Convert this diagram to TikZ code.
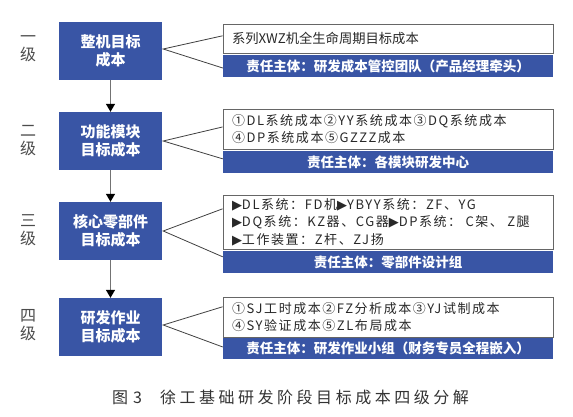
\documentclass[tikz,border=0pt]{standalone}
\usepackage{fontspec}
\usetikzlibrary{arrows.meta,calc}
\newfontfamily\cjk{Noto Sans CJK SC}
\newfontfamily\cjksp[LetterSpace=12]{Noto Sans CJK SC}
\newfontfamily\capfont[LetterSpace=22]{Noto Sans CJK SC}
\newfontfamily\symf{DejaVu Sans}
\definecolor{bluebox}{RGB}{57,85,165}
\definecolor{txtgray}{RGB}{40,40,40}
\newcommand{\tri}{{\symf\fontsize{13}{10}\selectfont ▶}}
\begin{document}
\begin{tikzpicture}[x=1pt,y=-1pt,
  lbox/.style={fill=bluebox,minimum width=103pt,minimum height=58pt,text=white,
    font=\cjk\bfseries\fontsize{15}{18}\selectfont,align=center,inner sep=0pt},
  wbox/.style={draw=black!60,line width=0.9pt,fill=white,minimum width=330pt,
    text width=312pt,inner xsep=9pt,inner ysep=0pt,align=left,text=txtgray,
    font=\cjksp\fontsize{13}{17.5}\selectfont},
  bbar/.style={fill=bluebox,minimum width=330pt,text=white,inner sep=0pt,
    font=\cjk\bfseries\fontsize{13.5}{16}\selectfont},
  lvl/.style={text=black!70,font=\cjk\fontsize{16}{18}\selectfont,align=center,inner sep=0pt},
  fork/.style={draw=black!75,line width=0.8pt},
  down/.style={draw=black!55,line width=1.3pt,-{Triangle[length=8pt,width=9pt,color=black]}}]
\useasboundingbox (0,0) rectangle (573,417);

% left boxes
\node[lbox] (b1) at (110.5,51) {整机目标\\成本};
\node[lbox] (b2) at (110.5,141) {功能模块\\目标成本};
\node[lbox] (b3) at (110.5,231) {核心零部件\\目标成本};
\node[lbox] (b4) at (110.5,327) {研发作业\\目标成本};

% level labels
\node[lvl] (l1) at (28,49) {一\\级};
\node[lvl] (l2) at (28,141) {二\\级};
\node[lvl] (l3) at (28,230) {三\\级};
\node[lvl] (l4) at (28,325) {四\\级};

% arrows
\draw[down] (b1.south) -- (b2.north);
\draw[down] (b2.south) -- (b3.north);
\draw[down] (b3.south) -- (b4.north);

% right boxes
\node[wbox,minimum height=29pt,font=\cjk\fontsize{13.3}{17}\selectfont] (r1) at (388,38.5) {系列XWZ机全生命周期目标成本};
\node[bbar,minimum height=22pt] (r1b) at (388,66) {责任主体：研发成本管控团队（产品经理牵头）};

\node[wbox,minimum height=40pt] (r2) at (388,129) {①DL系统成本②YY系统成本③DQ系统成本\\④DP系统成本⑤GZZZ成本};
\node[bbar,minimum height=22pt] (r2b) at (388,162) {责任主体：各模块研发中心};

\node[wbox,minimum height=54pt] (r3) at (388,222) {\tri DL系统：FD机\tri YBYY系统：ZF、YG\\\tri DQ系统：KZ器、CG器\tri DP系统： C架、 Z腿\\\tri 工作装置：Z杆、ZJ扬};
\node[bbar,minimum height=22pt] (r3b) at (388,262) {责任主体：零部件设计组};

\node[wbox,minimum height=40pt] (r4) at (388,317) {①SJ工时成本②FZ分析成本③YJ试制成本\\④SY验证成本⑤ZL布局成本};
\node[bbar,minimum height=21pt] (r4b) at (388,348.5) {责任主体：研发作业小组（财务专员全程嵌入）};

% forks
\coordinate (f1a) at ($(r1.north west)!0.41!(r1.south west)$);
\coordinate (f1b) at ($(r1b.north west)!0.59!(r1b.south west)$);
\coordinate (f2a) at ($(r2.north west)!0.45!(r2.south west)$);
\coordinate (f2b) at ($(r2b.north west)!0.36!(r2b.south west)$);
\coordinate (f3a) at ($(r3.north west)!0.26!(r3.south west)$);
\coordinate (f3b) at ($(r3b.north west)!0.27!(r3b.south west)$);
\coordinate (f4a) at ($(r4.north west)!0.25!(r4.south west)$);
\coordinate (f4b) at ($(r4b.north west)!0.43!(r4b.south west)$);
\coordinate (e1) at ($(b1.east)+(1,-2)$);
\coordinate (e4) at ($(b4.east)+(1,-2)$);
\draw[fork] (f1a) -- (e1) -- (f1b);
\draw[fork] (f2a) -- ($(b2.east)+(1,0)$) -- (f2b);
\draw[fork] (f3a) -- ($(b3.east)+(1,0)$) -- (f3b);
\draw[fork] (f4a) -- (e4) -- (f4b);

% caption
\node[anchor=west,inner sep=0pt,text=black!80,font=\capfont\fontsize{16}{18}\selectfont] (cap) at (112,397) {图\hspace{5pt}3\hspace{18pt}徐工基础研发阶段目标成本四级分解};
\end{tikzpicture}
\end{document}
